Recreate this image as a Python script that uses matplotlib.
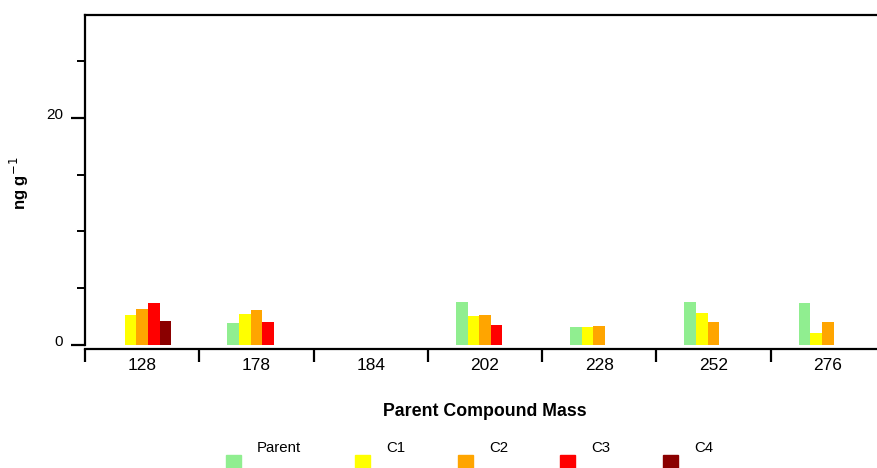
import numpy as np
import matplotlib.pyplot as plt
from matplotlib.patches import Rectangle
from matplotlib.ticker import MultipleLocator
from matplotlib.transforms import ScaledTranslation

plt.rcParams['font.family'] = ['Liberation Sans', 'DejaVu Sans']

masses = ['128', '178', '184', '202', '228', '252', '276']
series = ['Parent', 'C1', 'C2', 'C3', 'C4']
colors = ['#90ee90', '#ffff00', '#ffa500', '#ff0000', '#8b0000']

parent = [0.0, 1.94, 0.0, 3.79, 1.59, 3.79, 3.70]
c1 = [2.64, 2.73, 0.0, 2.58, 1.59, 2.82, 1.06]
c2 = [3.17, 3.08, 0.0, 2.64, 1.67, 2.03, 2.03]
c3 = [3.70, 2.03, 0.0, 1.76, 0.0, 0.0, 0.0]
c4 = [2.11, 0.0, 0.0, 0.0, 0.0, 0.0, 0.0]
values = [parent, c1, c2, c3, c4]

fig = plt.figure(figsize=(8.77, 4.68), dpi=100)
ax = fig.add_axes([85 / 877, 123 / 468, 800 / 877, 329.5 / 468])

x = np.arange(len(masses))
w = 0.102
for i, (name, vals, col) in enumerate(zip(series, values, colors)):
    ax.bar(x + (i - 2) * w, vals, width=w, color=col, label=name)

ax.set_xlim(-0.5, len(masses) - 0.5)
ax.set_ylim(0, 29)

ax.spines['right'].set_visible(False)
for s in ['left', 'bottom', 'top']:
    ax.spines[s].set_linewidth(1.6)
ax.spines['bottom'].set_position(('outward', 3))

# category boundaries as ticks, labels in the middle
ax.set_xticks(np.arange(len(masses) + 1) - 0.5)
ax.set_xticklabels([])
ax.set_xticks(x, minor=True)
ax.set_xticklabels(masses, minor=True, fontsize=12.5)
ax.tick_params(axis='x', which='major', direction='out', length=9.5, width=1.6)
ax.tick_params(axis='x', which='minor', length=0, pad=6)

ax.yaxis.set_major_locator(MultipleLocator(20))
ax.yaxis.set_minor_locator(MultipleLocator(5))
ax.tick_params(axis='y', which='major', direction='out', length=10, width=1.6, labelsize=11, pad=6)
ax.tick_params(axis='y', which='minor', direction='out', length=6, width=1.4)
for lab in ax.get_yticklabels():
    lab.set_transform(lab.get_transform() + ScaledTranslation(0, 0.04, fig.dpi_scale_trans))

ax.set_ylabel('ng g$^{-1}$', fontsize=12, fontweight='bold')
ax.yaxis.set_label_coords(-54 / 800, 0.49)
ax.set_xlabel('Parent Compound Mass', fontsize=12.8, fontweight='bold', labelpad=22)

# legend: squares at the bottom, names above and to the right
px = [226, 355, 458, 560, 663]
for p, name, col in zip(px, series, colors):
    fig.add_artist(Rectangle((p / 877, 0), 15 / 877, 13 / 468,
                             transform=fig.transFigure, color=col))
    fig.text((p + 31) / 877, (468 - 448) / 468, name, fontsize=10.8,
             va='center', ha='left')

fig.savefig('out.png', dpi=100)
